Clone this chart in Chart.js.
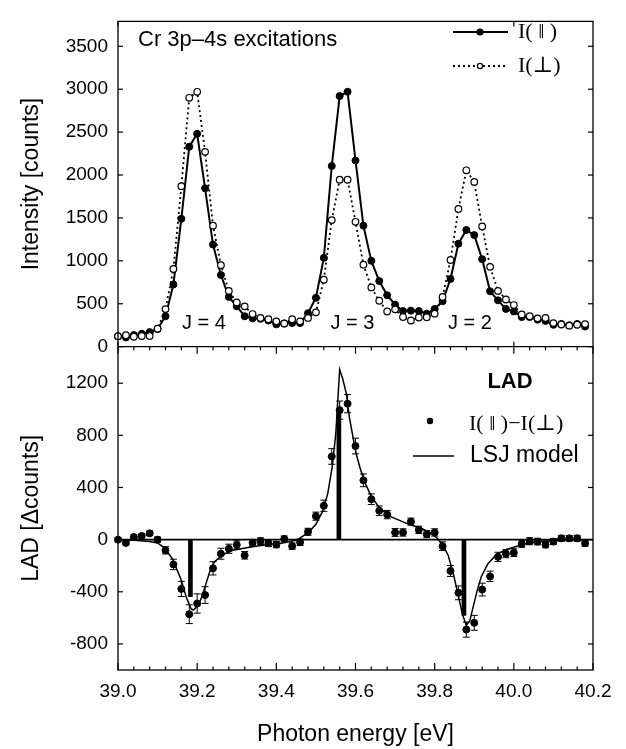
<!DOCTYPE html>
<html>
<head>
<meta charset="utf-8">
<script src="https://cdn.jsdelivr.net/npm/chart.js@4.4.1/dist/chart.umd.min.js"></script>
<style>
  html, body { margin: 0; padding: 0; background: #fff; }
</style>
</head>
<body>
<canvas id="graf" width="626" height="749"></canvas>
<script>
// Photon energy of the measured points [eV]
const energy = [39.00, 39.02, 39.04, 39.06, 39.08, 39.10, 39.12, 39.14, 39.16, 39.18,
  39.20, 39.22, 39.24, 39.26, 39.28, 39.30, 39.32, 39.34, 39.36, 39.38,
  39.40, 39.42, 39.44, 39.46, 39.48, 39.50, 39.52, 39.54, 39.56, 39.58,
  39.60, 39.62, 39.64, 39.66, 39.68, 39.70, 39.72, 39.74, 39.76, 39.78,
  39.80, 39.82, 39.84, 39.86, 39.88, 39.90, 39.92, 39.94, 39.96, 39.98,
  40.00, 40.02, 40.04, 40.06, 40.08, 40.10, 40.12, 40.14, 40.16, 40.18];

// I(||) counts
const iPar = [120, 108, 135, 150, 170, 205, 355, 725, 1490, 2330,
  2480, 1845, 1190, 835, 580, 470, 355, 330, 325, 305,
  260, 270, 275, 275, 390, 570, 1035, 2105, 2920, 2970,
  2170, 1410, 1000, 765, 600, 490, 415, 420, 415, 385,
  440, 530, 790, 1200, 1360, 1300, 1020, 645, 540, 440,
  410, 345, 345, 315, 300, 255, 265, 250, 265, 235];

// I(perp) counts
const iPerp = [122, 133, 115, 124, 125, 209, 438, 905, 1870, 2900,
  2970, 2270, 1410, 950, 650, 515, 470, 380, 335, 320,
  295, 270, 320, 295, 335, 400, 780, 1475, 1945, 1945,
  1455, 955, 690, 535, 410, 435, 345, 305, 340, 343,
  385, 580, 1010, 1605, 2055, 1920, 1400, 930, 650, 550,
  485, 375, 355, 330, 335, 275, 258, 245, 255, 263];

// LAD = I(||) - I(perp) and its error bars
const lad = [0, -25, 20, 28, 48, 0, -82, -190, -378, -572,
  -490, -425, -220, -108, -70, -40, -120, -25, -12, -28,
  -38, 5, -50, -20, 60, 180, 260, 638, 993, 1043,
  718, 455, 310, 222, 192, 55, 55, 138, 75, 42,
  55, -50, -240, -408, -690, -638, -383, -282, -132, -108,
  -100, -32, -12, -15, -38, -15, 10, 10, 10, -28];
const ladErr = [16, 15, 16, 16, 17, 20, 28, 40, 58, 72,
  74, 64, 51, 42, 35, 31, 29, 27, 26, 25,
  24, 23, 24, 24, 27, 31, 43, 60, 70, 70,
  60, 49, 41, 36, 32, 30, 28, 27, 28, 27,
  28, 33, 42, 53, 58, 57, 49, 40, 35, 31,
  30, 27, 27, 25, 25, 23, 23, 22, 23, 22];

// LSJ model curve
const modelE = [39.000, 39.040, 39.080, 39.100, 39.118, 39.137, 39.158, 39.173, 39.185, 39.190,
  39.202, 39.211, 39.219, 39.232, 39.244, 39.265, 39.290, 39.332, 39.374, 39.416,
  39.450, 39.466, 39.483, 39.500, 39.517, 39.530, 39.541, 39.550, 39.555, 39.560,
  39.568, 39.577, 39.585, 39.594, 39.602, 39.611, 39.623, 39.640, 39.661, 39.686,
  39.729, 39.771, 39.796, 39.808, 39.821, 39.834, 39.846, 39.859, 39.870, 39.880,
  39.889, 39.897, 39.907, 39.918, 39.935, 39.956, 39.981, 40.023, 40.065, 40.108,
  40.180];
const modelLAD = [0, -5, -15, -25, -65, -145, -295, -445, -532, -540,
  -508, -445, -370, -245, -170, -115, -82, -58, -40, -25,
  -5, 25, 60, 118, 218, 355, 555, 805, 1055, 1305,
  1230, 1118, 930, 780, 655, 555, 443, 330, 243, 180,
  125, 80, 43, 5, -45, -120, -245, -420, -570, -658,
  -620, -520, -395, -283, -183, -115, -75, -38, -15, -5,
  0];

// LSJ line positions (sticks)
const lineE = [39.183, 39.558, 39.874];
const lineLAD = [-437, 1005, -582];

// tick labels
const xTicks = [39.0, 39.2, 39.4, 39.6, 39.8, 40.0, 40.2];
const yTicksI = [0, 500, 1000, 1500, 2000, 2500, 3000, 3500];
const yTicksLAD = [-800, -400, 0, 400, 800, 1200];

// peak labels
const peakNames = ["J = 4", "J = 3", "J = 2"];
const peakE = [39.217, 39.592, 39.889];

const SANS = '"Liberation Sans", Arial, sans-serif';
const SERIF = '"Liberation Serif", "DejaVu Serif", serif';
Chart.defaults.font.family = SANS;
Chart.defaults.color = "#000";

function seg(ctx, x1, y1, x2, y2) {
  ctx.beginPath();
  ctx.moveTo(x1, y1);
  ctx.lineTo(x2, y2);
  ctx.stroke();
}

const decor = {
  id: "decor",
  beforeDatasetsDraw(chart) {
    const { ctx, chartArea: a, scales: { x, yL } } = chart;
    ctx.save();
    ctx.strokeStyle = "#000";
    // zero line of the LAD panel
    ctx.lineWidth = 1.6;
    const y0 = yL.getPixelForValue(0);
    seg(ctx, a.left, y0, a.right, y0);
    // error bars
    ctx.lineWidth = 1;
    energy.forEach((e, i) => {
      const px = x.getPixelForValue(e);
      const t = yL.getPixelForValue(lad[i] + ladErr[i]);
      const b = yL.getPixelForValue(lad[i] - ladErr[i]);
      seg(ctx, px, t, px, b);
      seg(ctx, px - 3.5, t, px + 3.5, t);
      seg(ctx, px - 3.5, b, px + 3.5, b);
    });
    ctx.restore();
  },
  afterDraw(chart) {
    const { ctx, chartArea: a, scales: { x, yI, yL } } = chart;
    ctx.save();
    ctx.strokeStyle = "#000";
    ctx.fillStyle = "#000";

    // frame
    ctx.lineWidth = 1.3;
    ctx.strokeRect(a.left, a.top, a.right - a.left, a.bottom - a.top);
    seg(ctx, a.left, yI.bottom, a.right, yI.bottom);

    // inward tick marks
    ctx.lineWidth = 1.2;
    [yI, yL].forEach(s => {
      s.ticks.forEach(t => {
        const py = s.getPixelForValue(t.value);
        seg(ctx, a.left, py, a.left + 5, py);
        seg(ctx, a.right - 5, py, a.right, py);
      });
    });
    [39, 40].forEach(v => {
      const px = x.getPixelForValue(v);
      seg(ctx, px, yI.top, px, yI.top + 5);
      seg(ctx, px, yI.bottom - 5, px, yI.bottom);
    });
    for (let k = 0; k <= 30; k++) {
      const px = x.getPixelForValue(39 + k * 0.04);
      const len = k % 5 === 0 ? 7 : 3.5;
      seg(ctx, px, yL.bottom - len, px, yL.bottom);
      seg(ctx, px, yL.top, px, yL.top + len);
    }

    // top panel texts
    ctx.textBaseline = "middle";
    ctx.textAlign = "left";
    ctx.font = "22px " + SANS;
    ctx.fillText("Cr 3p\u20134s excitations", 138, 40);
    ctx.textAlign = "center";
    ctx.font = "20px " + SANS;
    peakNames.forEach((n, i) => ctx.fillText(n, x.getPixelForValue(peakE[i]), 323));

    // top legend
    ctx.lineWidth = 2;
    seg(ctx, 453, 32, 508, 32);
    ctx.beginPath(); ctx.arc(480, 32, 3.5, 0, Math.PI * 2); ctx.fill();
    ctx.setLineDash([2, 3]);
    seg(ctx, 453, 66, 508, 66);
    ctx.setLineDash([]);
    ctx.fillStyle = "#fff";
    ctx.lineWidth = 1.2;
    ctx.beginPath(); ctx.arc(480, 66, 2.6, 0, Math.PI * 2); ctx.fill(); ctx.stroke();
    ctx.fillStyle = "#000";
    ctx.textAlign = "left";
    ctx.font = "22px " + SERIF;
    ctx.fillText("I( \u2016 )", 518, 32);
    ctx.fillText("I(\u22A5)", 518, 66);

    // bottom legend
    ctx.textAlign = "center";
    ctx.font = "bold 22px " + SANS;
    ctx.fillText("LAD", 510, 382);
    ctx.beginPath(); ctx.arc(430, 421, 3.2, 0, Math.PI * 2); ctx.fill();
    ctx.textAlign = "left";
    ctx.font = "22px " + SERIF;
    ctx.fillText("I( \u2016 )\u2212I(\u22A5)", 469, 424);
    ctx.lineWidth = 1.5;
    seg(ctx, 413, 456, 454, 456);
    ctx.font = "23px " + SANS;
    ctx.fillText("LSJ model", 470, 456);
    ctx.restore();
  }
};

const noGrid = { display: false, drawTicks: false };
const fixTicks = list => s => { s.ticks = list.map(v => ({ value: v })); };

new Chart(document.getElementById("graf"), {
  type: "line",
  data: {
    datasets: [
      {
        label: "I(\u22A5)",
        data: energy.map((e, i) => ({ x: e, y: iPerp[i] })),
        yAxisID: "yI",
        borderColor: "#000",
        borderWidth: 1.8,
        borderDash: [2, 3],
        pointRadius: 3.3,
        pointBackgroundColor: "#fff",
        pointBorderColor: "#000",
        pointBorderWidth: 1.2,
        tension: 0,
        clip: 8,
        order: 1
      },
      {
        label: "I(\u2016)",
        data: energy.map((e, i) => ({ x: e, y: iPar[i] })),
        yAxisID: "yI",
        borderColor: "#000",
        borderWidth: 2,
        pointRadius: 3.5,
        pointBackgroundColor: "#000",
        pointBorderColor: "#000",
        pointBorderWidth: 1,
        tension: 0,
        clip: 8,
        order: 2
      },
      {
        type: "scatter",
        label: "I(\u2016)\u2212I(\u22A5)",
        data: energy.map((e, i) => ({ x: e, y: lad[i] })),
        yAxisID: "yL",
        pointRadius: 3.5,
        pointBackgroundColor: "#000",
        pointBorderColor: "#000",
        showLine: false,
        clip: 8,
        order: 3
      },
      {
        label: "LSJ model",
        data: modelE.map((e, i) => ({ x: e, y: modelLAD[i] })),
        yAxisID: "yL",
        borderColor: "#000",
        borderWidth: 1.5,
        pointRadius: 0,
        tension: 0,
        order: 4
      },
      {
        type: "bar",
        label: "LSJ lines",
        data: lineE.map((e, i) => ({ x: e, y: lineLAD[i] })),
        yAxisID: "yL",
        backgroundColor: "#000",
        barThickness: 4,
        order: 5
      }
    ]
  },
  options: {
    responsive: false,
    animation: false,
    layout: { padding: { left: 0, right: 33, top: 8, bottom: 0 } },
    plugins: { legend: { display: false }, tooltip: { enabled: false } },
    scales: {
      x: {
        type: "linear",
        min: 39,
        max: 40.2,
        offset: false,
        grid: noGrid,
        border: { display: false },
        afterBuildTicks: fixTicks(xTicks),
        ticks: {
          padding: 10,
          autoSkip: false,
          maxRotation: 0,
          font: { size: 19 },
          callback: v => v.toFixed(1)
        },
        title: { display: true, text: "Photon energy [eV]", font: { size: 23 }, padding: { top: 0, bottom: 1 } },
        afterFit: s => { s.height = 79; }
      },
      yL: {
        type: "linear",
        position: "left",
        stack: "panels",
        stackWeight: 330,
        min: -1000,
        max: 1480,
        grid: noGrid,
        border: { display: false },
        afterBuildTicks: fixTicks(yTicksLAD),
        ticks: { padding: 10, autoSkip: false, font: { size: 19 }, callback: v => String(v) },
        title: { display: true, text: "LAD [\u0394counts]", font: { size: 23 }, padding: { top: 18, bottom: 0 } },
        afterFit: s => { s.width = 118; }
      },
      yI: {
        type: "linear",
        position: "left",
        stack: "panels",
        stackWeight: 332,
        min: 0,
        max: 3790,
        grid: noGrid,
        border: { display: false },
        afterBuildTicks: fixTicks(yTicksI),
        ticks: { padding: 10, autoSkip: false, font: { size: 19 }, callback: v => String(v) },
        title: { display: true, text: "Intensity [counts]", font: { size: 23 }, padding: { top: 18, bottom: 0 } },
        afterFit: s => { s.width = 118; }
      }
    }
  },
  plugins: [decor]
});
</script>
</body>
</html>
